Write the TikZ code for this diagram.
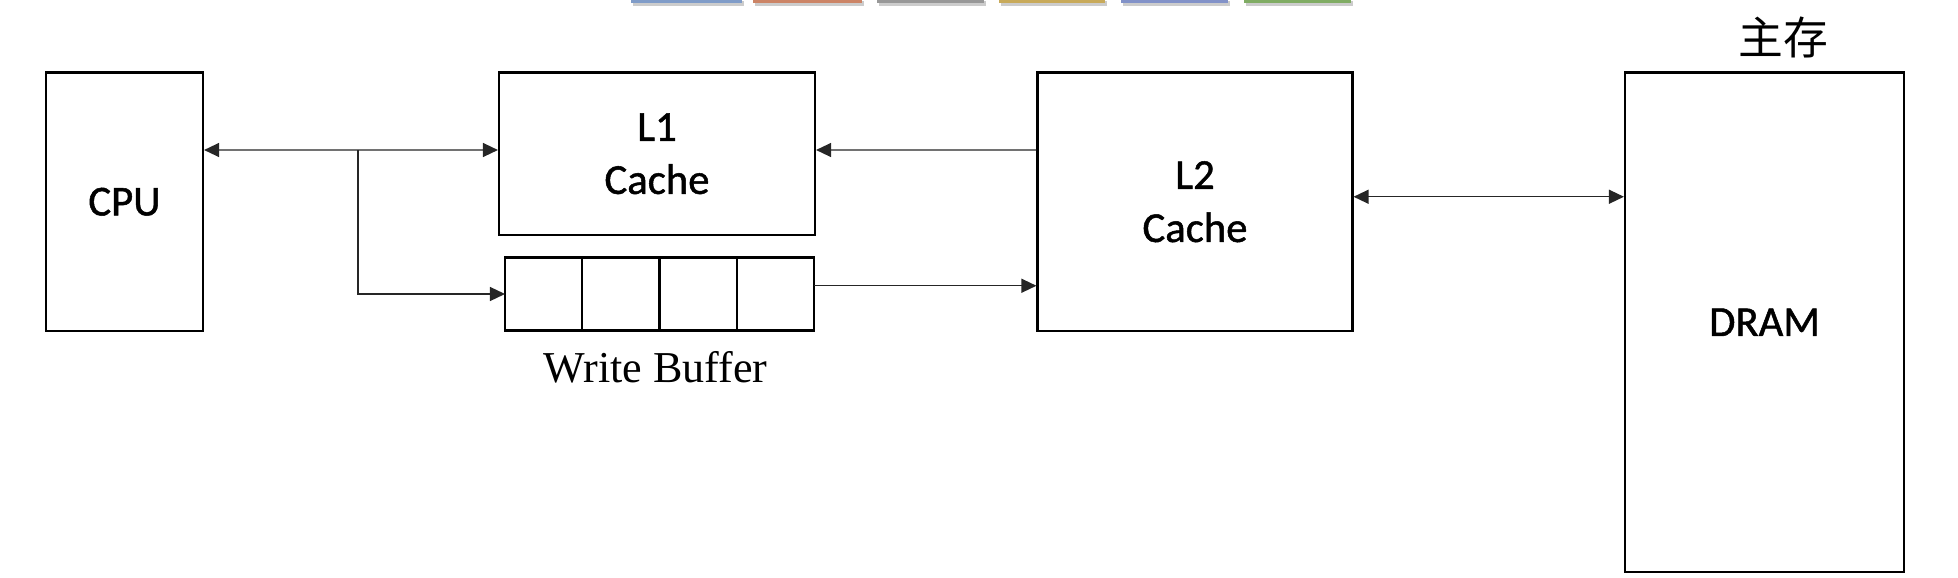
\documentclass[tikz,border=0pt]{standalone}
\usepackage{fontspec}
\setmainfont{Carlito}
\newfontfamily\boxfont{Carlito}[FakeBold=1.2]
\newfontfamily\wbfont{Liberation Serif}
\newfontfamily\cjkfont{Noto Sans CJK SC}
\usetikzlibrary{arrows.meta,positioning}
\definecolor{tabblue}{RGB}{128,156,200}
\definecolor{taborange}{RGB}{204,132,102}
\definecolor{tabgray}{RGB}{152,152,152}
\definecolor{tabgold}{RGB}{200,170,90}
\definecolor{tabviolet}{RGB}{130,146,200}
\definecolor{tabgreen}{RGB}{128,172,100}

\begin{document}
\begin{tikzpicture}[x=0.02cm, y=-0.02cm,
    >={Triangle[length=0.3cm, width=0.28cm]},
    box/.style={draw, line width=1.25pt, inner sep=0pt, align=center, font=\boxfont\fontsize{24.3}{30.2}\selectfont},
    cell/.style={draw, line width=1.25pt, inner sep=0pt, outer sep=0pt, minimum width=1.545cm, minimum height=1.46cm},
    link/.style={line width=0.75pt, draw=black!85},
    tab/.style={draw=none, fill=#1}
]
    \useasboundingbox (0,0) rectangle (1958,578);

    \node[box, minimum width=3.14cm, minimum height=5.17cm] (CPU) at (124.5,201.75) {CPU};
    \node[box, minimum width=6.32cm, minimum height=3.25cm] (L1) at (657,153.75) {L1\\Cache};
    \node[box, minimum width=6.3cm, minimum height=5.17cm] (L2) at (1195,201.75) {L2\\Cache};
    \node[box, minimum width=5.58cm, minimum height=9.99cm] (DRAM) at (1764.5,322.25) {DRAM};

    \node[cell] (wb1) at (543.6,294) {};
    \node[cell, right=0pt of wb1] (wb2) {};
    \node[cell, right=0pt of wb2] (wb3) {};
    \node[cell, right=0pt of wb3] (wb4) {};
    \node[anchor=base, font=\wbfont\fontsize{25.1}{28}\selectfont] (wblabel) at (655.5,382) {Write Buffer};

    \node[font=\cjkfont\fontsize{25.5}{28}\selectfont] (mainmem) at (1783,37.5) {主存};

    \coordinate (split) at (358,150);
    \coordinate (L1in) at ([yshift=.075cm]L1.west);
    \coordinate (L1back) at ([yshift=.075cm]L1.east);
    \coordinate (wbout) at ([yshift=.165cm]wb4.east);
    \coordinate (L2out) at ([yshift=.1cm]L2.east);
    \draw[link, <->] (CPU.east |- split) -- (L1in);
    \draw[link, ->] (split) |- (wb1.west);
    \draw[link, ->] (L2.west |- split) -- (L1back);
    \draw[link, ->] (wbout) -- (L2.west |- wbout);
    \draw[link, <->] (L2out) -- (DRAM.west |- L2out);

    \fill[black!20] (633,1) rectangle (744,6);
    \fill[tab=tabblue] (631,0) rectangle (742,3);
    \fill[black!20] (755,1) rectangle (864,6);
    \fill[tab=taborange] (753,0) rectangle (862,3);
    \fill[black!20] (879,1) rectangle (986,6);
    \fill[tab=tabgray] (877,0) rectangle (984,3);
    \fill[black!20] (1001,1) rectangle (1107,6);
    \fill[tab=tabgold] (999,0) rectangle (1105,3);
    \fill[black!20] (1123,1) rectangle (1230,6);
    \fill[tab=tabviolet] (1121,0) rectangle (1228,3);
    \fill[black!20] (1246,1) rectangle (1353,6);
    \fill[tab=tabgreen] (1244,0) rectangle (1351,3);

\end{tikzpicture}
\end{document}
